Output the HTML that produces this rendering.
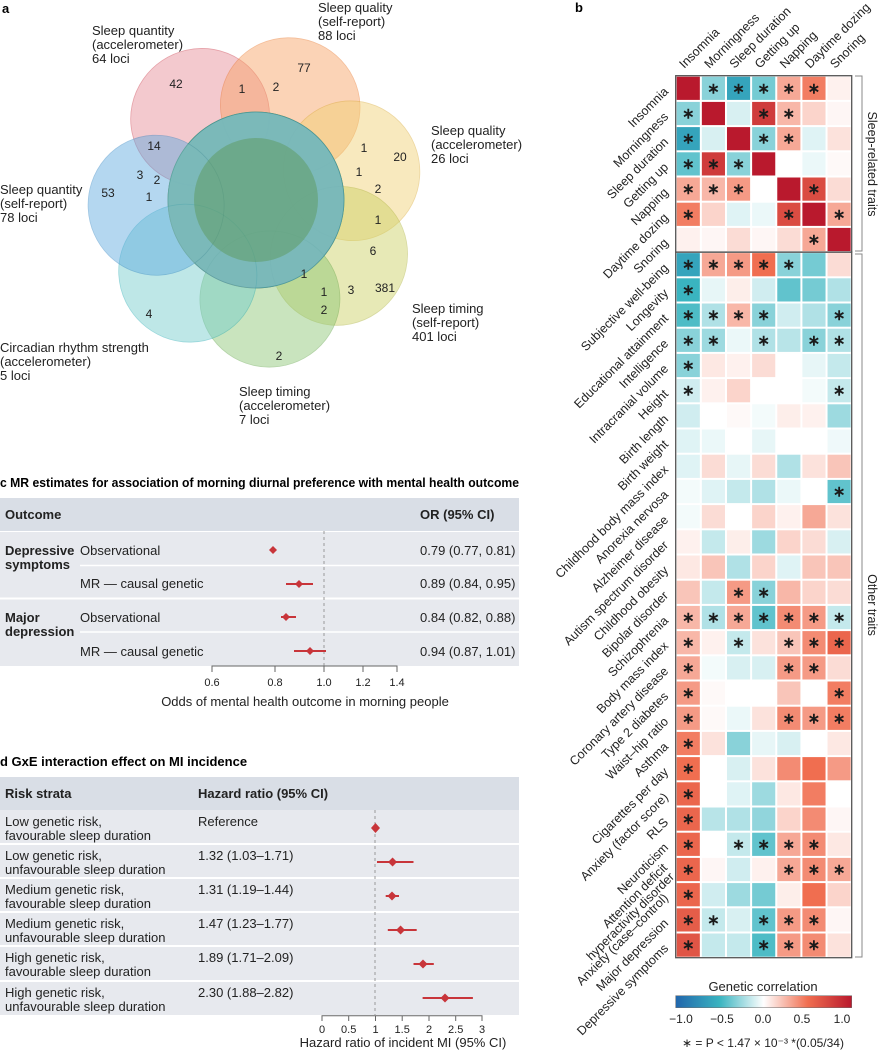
<!DOCTYPE html>
<html><head><meta charset="utf-8"><style>
html,body{margin:0;padding:0;background:#fff;}
svg{display:block;font-family:"Liberation Sans",sans-serif;}
</style></head><body>
<svg id="s" width="880" height="1050" viewBox="0 0 880 1050" xmlns="http://www.w3.org/2000/svg">
<!-- Panel a -->
<text x="2" y="13" font-size="13" font-weight="bold">a</text>
<g stroke-width="0.8">
<g transform="translate(256,200) rotate(-34)" opacity="0.45"><circle r="88" fill="#e58a95" stroke="#c83040"/><ellipse cy="-100" rx="70" ry="68" fill="#e58a95" stroke="#c83040"/></g>
<g transform="translate(256,200) rotate(20)" opacity="0.45"><circle r="88" fill="#f8a060" stroke="#e87020"/><ellipse cy="-100" rx="70" ry="68" fill="#f8a060" stroke="#e87020"/></g>
<g transform="translate(256,200) rotate(73)" opacity="0.45"><circle r="88" fill="#f0cf70" stroke="#d8a830"/><ellipse cy="-100" rx="70" ry="68" fill="#f0cf70" stroke="#d8a830"/></g>
<g transform="translate(256,200) rotate(124)" opacity="0.45"><circle r="88" fill="#cbd060" stroke="#a8ae30"/><ellipse cy="-100" rx="70" ry="68" fill="#cbd060" stroke="#a8ae30"/></g>
<g transform="translate(256,200) rotate(172)" opacity="0.45"><circle r="88" fill="#88c470" stroke="#5aa040"/><ellipse cy="-100" rx="70" ry="68" fill="#88c470" stroke="#5aa040"/></g>
<g transform="translate(256,200) rotate(223)" opacity="0.45"><circle r="88" fill="#70cccc" stroke="#20a8b0"/><ellipse cy="-100" rx="70" ry="68" fill="#70cccc" stroke="#20a8b0"/></g>
<g transform="translate(256,200) rotate(267)" opacity="0.45"><circle r="88" fill="#5aa8e0" stroke="#2a80c0"/><ellipse cy="-100" rx="70" ry="68" fill="#5aa8e0" stroke="#2a80c0"/></g>
<circle cx="256" cy="200" r="62" fill="#5e9a5e" opacity="0.5"/>
</g>
<g font-size="13" fill="#222">
<text x="92" y="35">Sleep quantity</text><text x="92" y="49">(accelerometer)</text><text x="92" y="63">64 loci</text>
<text x="318" y="12">Sleep quality</text><text x="318" y="26">(self-report)</text><text x="318" y="40">88 loci</text>
<text x="431" y="135">Sleep quality</text><text x="431" y="149">(accelerometer)</text><text x="431" y="163">26 loci</text>
<text x="0" y="194">Sleep quantity</text><text x="0" y="208">(self-report)</text><text x="0" y="222">78 loci</text>
<text x="412" y="313">Sleep timing</text><text x="412" y="327">(self-report)</text><text x="412" y="341">401 loci</text>
<text x="0" y="352">Circadian rhythm strength</text><text x="0" y="366">(accelerometer)</text><text x="0" y="380">5 loci</text>
<text x="239" y="396">Sleep timing</text><text x="239" y="410">(accelerometer)</text><text x="239" y="424">7 loci</text>
</g>
<g font-size="12" fill="#222" text-anchor="middle">
<text x="176" y="88">42</text><text x="304" y="72">77</text><text x="242" y="93">1</text><text x="276" y="91">2</text>
<text x="154" y="150">14</text><text x="140" y="179">3</text><text x="157" y="184">2</text><text x="149" y="201">1</text>
<text x="108" y="197">53</text><text x="364" y="152">1</text><text x="400" y="161">20</text><text x="359" y="176">1</text>
<text x="378" y="193">2</text><text x="378" y="224">1</text><text x="373" y="255">6</text><text x="385" y="292">381</text>
<text x="304" y="278">1</text><text x="324" y="296">1</text><text x="351" y="294">3</text><text x="324" y="314">2</text>
<text x="149" y="318">4</text><text x="279" y="360">2</text>
</g>

<!-- Panel c -->
<text x="0" y="487" font-size="13" font-weight="bold" textLength="519" lengthAdjust="spacingAndGlyphs">c  MR estimates for association of morning diurnal preference with mental health outcome</text>
<rect x="0" y="498" width="519" height="33" fill="#d9dee6"/>
<rect x="0" y="532" width="519" height="134" fill="#e7e9ee"/>
<line x1="80" y1="565.5" x2="519" y2="565.5" stroke="#fff" stroke-width="1.5"/>
<line x1="0" y1="598.5" x2="519" y2="598.5" stroke="#fff" stroke-width="2"/>
<line x1="80" y1="632" x2="519" y2="632" stroke="#fff" stroke-width="1.5"/>
<line x1="324" y1="531" x2="324" y2="666" stroke="#999" stroke-dasharray="3,3"/>
<g font-size="13" fill="#222">
<text x="5" y="519" font-weight="bold">Outcome</text><text x="420" y="519" font-weight="bold">OR (95% CI)</text>
<text x="5" y="555" font-weight="bold">Depressive</text><text x="5" y="569" font-weight="bold">symptoms</text>
<text x="80" y="555">Observational</text><text x="80" y="588">MR — causal genetic</text>
<text x="5" y="622" font-weight="bold">Major</text><text x="5" y="636" font-weight="bold">depression</text>
<text x="80" y="622">Observational</text><text x="80" y="656">MR — causal genetic</text>
<text x="420" y="555">0.79 (0.77, 0.81)</text><text x="420" y="588">0.89 (0.84, 0.95)</text>
<text x="420" y="622">0.84 (0.82, 0.88)</text><text x="420" y="656">0.94 (0.87, 1.01)</text>
</g>
<g fill="#c8353a" stroke="#c8353a" stroke-width="2">
<line x1="270" y1="550" x2="276" y2="550"/><path d="M273 546 L277 550 L273 554 L269 550Z" stroke="none"/>
<line x1="286" y1="584" x2="313" y2="584"/><path d="M299 580 L303 584 L299 588 L295 584Z" stroke="none"/>
<line x1="281" y1="617" x2="296" y2="617"/><path d="M286 613 L290 617 L286 621 L282 617Z" stroke="none"/>
<line x1="294" y1="651" x2="326" y2="651"/><path d="M310 647 L314 651 L310 655 L306 651Z" stroke="none"/>
</g>
<g stroke="#666" fill="none"><path d="M212 672 V666 H397 V672 M275 666 V672 M324 666 V672 M363 666 V672"/></g>
<g font-size="11" fill="#222" text-anchor="middle">
<text x="212" y="686">0.6</text><text x="275" y="686">0.8</text><text x="324" y="686">1.0</text><text x="363" y="686">1.2</text><text x="397" y="686">1.4</text>
<text x="305" y="706" font-size="13">Odds of mental health outcome in morning people</text>
</g>

<!-- Panel d -->
<text x="0" y="766" font-size="13" font-weight="bold">d  GxE interaction effect on MI incidence</text>
<rect x="0" y="777" width="519" height="33" fill="#d9dee6"/>
<rect x="0" y="810" width="519" height="205" fill="#e7e9ee"/>
<g stroke="#fff" stroke-width="2">
<line x1="0" y1="844" x2="519" y2="844"/><line x1="0" y1="878" x2="519" y2="878"/><line x1="0" y1="912" x2="519" y2="912"/><line x1="0" y1="946" x2="519" y2="946"/><line x1="0" y1="981" x2="519" y2="981"/>
</g>
<line x1="375" y1="810" x2="375" y2="1015" stroke="#999" stroke-dasharray="3,3"/>
<g font-size="13" fill="#222">
<text x="5" y="798" font-weight="bold">Risk strata</text><text x="198" y="798" font-weight="bold">Hazard ratio (95% CI)</text>
<text x="5" y="826">Low genetic risk,</text><text x="5" y="840">favourable sleep duration</text><text x="198" y="826">Reference</text>
<text x="5" y="860">Low genetic risk,</text><text x="5" y="874">unfavourable sleep duration</text><text x="198" y="860">1.32 (1.03–1.71)</text>
<text x="5" y="894">Medium genetic risk,</text><text x="5" y="908">favourable sleep duration</text><text x="198" y="894">1.31 (1.19–1.44)</text>
<text x="5" y="928">Medium genetic risk,</text><text x="5" y="942">unfavourable sleep duration</text><text x="198" y="928">1.47 (1.23–1.77)</text>
<text x="5" y="962">High genetic risk,</text><text x="5" y="976">favourable sleep duration</text><text x="198" y="962">1.89 (1.71–2.09)</text>
<text x="5" y="997">High genetic risk,</text><text x="5" y="1011">unfavourable sleep duration</text><text x="198" y="997">2.30 (1.88–2.82)</text>
</g>
<g fill="#c8353a" stroke="#c8353a" stroke-width="2">
<path d="M375.5 823 L380 828 L375.5 833 L371 828Z" stroke="none"/>
<line x1="377" y1="862" x2="413.5" y2="862"/><path d="M392.6 857.5 L397 862 L392.6 866.5 L388 862Z" stroke="none"/>
<line x1="385.7" y1="896" x2="399" y2="896"/><path d="M392 891.5 L396.5 896 L392 900.5 L387.5 896Z" stroke="none"/>
<line x1="387.8" y1="930" x2="416.7" y2="930"/><path d="M400.6 925.5 L405 930 L400.6 934.5 L396 930Z" stroke="none"/>
<line x1="413.5" y1="964" x2="433.8" y2="964"/><path d="M423 959.5 L427.5 964 L423 968.5 L418.5 964Z" stroke="none"/>
<line x1="422.6" y1="998" x2="472.9" y2="998"/><path d="M445 993.5 L449.5 998 L445 1002.5 L440.5 998Z" stroke="none"/>
</g>
<g stroke="#666" fill="none"><path d="M322 1021 V1015.7 H482 V1021 M348.7 1015.7 V1021 M375.5 1015.7 V1021 M402.2 1015.7 V1021 M429 1015.7 V1021 M455.7 1015.7 V1021"/></g>
<g font-size="11" fill="#222" text-anchor="middle">
<text x="322" y="1033">0</text><text x="348.7" y="1033">0.5</text><text x="375.5" y="1033">1</text><text x="402.2" y="1033">1.5</text><text x="429" y="1033">2</text><text x="455.7" y="1033">2.5</text><text x="482" y="1033">3</text>
<text x="403" y="1047" font-size="13">Hazard ratio of incident MI (95% CI)</text>
</g>

<!-- Panel b -->
<text x="575" y="12" font-size="13" font-weight="bold">b</text>
<g id="hm"></g>
<rect x="675.7" y="75.7" width="176" height="176.4" fill="none" stroke="#555" stroke-width="1.3"/>
<rect x="675.7" y="252.1" width="176" height="705.6" fill="none" stroke="#555" stroke-width="1.3"/>
<path d="M855 76 H862 V251 H855 M855 254 H862 V957 H855" stroke="#888" fill="none"/>
<text transform="translate(868,164) rotate(90)" font-size="12.5" text-anchor="middle" fill="#222">Sleep-related traits</text>
<text transform="translate(868,605) rotate(90)" font-size="12.5" text-anchor="middle" fill="#222">Other traits</text>
<defs><linearGradient id="cb" x1="0" x2="1" y1="0" y2="0">
<stop offset="0" stop-color="#2166ac"/><stop offset="0.25" stop-color="#3ab4c0"/><stop offset="0.5" stop-color="#ffffff"/><stop offset="0.75" stop-color="#f06e50"/><stop offset="1" stop-color="#b9192d"/></linearGradient></defs>
<text x="763" y="991" font-size="13" text-anchor="middle" fill="#222">Genetic correlation</text>
<rect x="675.7" y="995.7" width="176" height="12" fill="url(#cb)" stroke="#666" stroke-width="0.5"/>
<g font-size="12" fill="#222" text-anchor="middle">
<text x="681" y="1023">−1.0</text><text x="722" y="1023">−0.5</text><text x="763" y="1023">0.0</text><text x="802" y="1023">0.5</text><text x="842" y="1023">1.0</text>
<text x="763" y="1047">∗ = P &lt; 1.47 × 10⁻³ *(0.05/34)</text>
</g>
</svg>
<script>
(function(){
var NS="http://www.w3.org/2000/svg";
var hm=document.getElementById("hm");
var cols=["Insomnia","Morningness","Sleep duration","Getting up","Napping","Daytime dozing","Snoring"];
var rows=[
["Insomnia","1,-.3*,-.6*,-.35*,.3*,.45*,.05"],
["Morningness","-.3*,1,-.1,.8*,.25*,.15,.03"],
["Sleep duration","-.6*,-.1,1,-.3*,.3*,-.08,.1"],
["Getting up","-.4*,.8*,-.3*,1,0,-.05,.02"],
["Napping",".3*,.25*,.35*,0,1,.7*,.12"],
["Daytime dozing",".45*,.15,-.08,-.05,.7*,1,.3*"],
["Snoring",".05,.03,.12,.03,.12,.3*,1"],
["Subjective well-being","-.6*,.3*,.35*,.5*,-.3*,-.35,.12"],
["Longevity","-.5*,-.06,.06,-.12,-.4,-.35,-.2"],
["Educational attainment","-.45*,-.2*,.25*,-.3*,-.12,-.2,-.3*"],
["Intelligence","-.3*,-.25*,-.05,-.2*,-.18,-.3*,-.2*"],
["Intracranial volume","-.3*,.08,.05,.12,0,-.06,-.15"],
["Height","-.12*,.05,.15,0,0,-.03,-.15*"],
["Birth length","-.12,0,.02,-.03,.06,.05,-.25"],
["Birth weight","-.08,-.05,0,-.06,0,0,-.04"],
["Childhood body mass index","-.08,.12,-.06,.12,-.2,.1,.2"],
["Anorexia nervosa","-.03,-.08,-.15,-.2,-.05,0,-.4*"],
["Alzheimer disease","-.03,.12,0,.15,.05,.3,.1"],
["Autism spectrum disorder",".05,-.15,.06,-.25,.15,.12,-.1"],
["Childhood obesity",".08,.2,-.2,.15,-.08,.2,.2"],
["Bipolar disorder",".2,-.15,.35*,-.3*,.25,.15,.12"],
["Schizophrenia",".25*,-.2*,.3*,-.4*,.4*,.35*,-.15*"],
["Body mass index",".25*,.05,-.15*,.1,.2*,.4*,.55*"],
["Coronary artery disease",".3*,-.03,-.1,-.1,.35*,.35*,.12"],
["Type 2 diabetes",".35*,.02,0,0,.2,0,.45*"],
["Waist–hip ratio",".35*,.02,-.05,.1,.4*,.35*,.45*"],
["Asthma",".45*,.1,-.3,-.06,-.1,0,.08"],
["Cigarettes per day",".5*,0,-.1,.1,.4,.5,.35"],
["Anxiety (factor score)",".55*,0,-.08,-.25,.08,.45,0"],
["RLS",".55*,-.18,-.2,-.28,.15,.4,.03"],
["Neuroticism",".55*,0,-.15*,-.4*,.3*,.4*,.08"],
["ADHD",".55*,.03,-.12,.05,.3*,.4*,.3*"],
["Anxiety (case–control)",".55*,-.12,-.25,-.35,.06,.5,.15"],
["Major depression",".6*,-.15*,-.1,-.4*,.35*,.4*,.03"],
["Depressive symptoms",".65*,-.15,-.15,-.45*,.35*,.4*,.1"]];
var st=[[-1,[33,102,172]],[-0.5,[58,180,192]],[0,[255,255,255]],[0.5,[240,110,80]],[1,[185,25,45]]];
function col(v){for(var i=0;i<4;i++){var a=st[i],b=st[i+1];if(v<=b[0]){var t=(v-a[0])/(b[0]-a[0]);return "rgb("+[0,1,2].map(function(k){return Math.round(a[1][k]+(b[1][k]-a[1][k])*t)}).join(",")+")";}}return "rgb(185,25,45)";}
function el(n,at,txt){var e=document.createElementNS(NS,n);for(var k in at)e.setAttribute(k,at[k]);if(txt)e.textContent=txt;hm.appendChild(e);return e;}
var x0=675.7,y0=75.7,cw=25.14,rh=25.2;
rows.forEach(function(r,i){
 var y=y0+i*rh;
 r[1].split(",").forEach(function(s,j){
  var star=s.indexOf("*")>=0,v=parseFloat(s);
  var x=x0+j*cw;
  el("rect",{x:x+1,y:y+1,width:cw-2,height:rh-2,fill:col(v)});
  if(star)el("text",{x:x+cw/2,y:y+rh/2+5,"font-size":"15","font-weight":"bold","text-anchor":"middle",fill:"#1a1a1a"},"∗");
 });
 var cy=y+rh/2+4;
 if(r[0]=="ADHD"){
  el("text",{x:668,y:cy-5,"font-size":"12.5","text-anchor":"end",fill:"#222",transform:"rotate(-45 668 "+(cy-5)+")"},"Attention deficit");
  el("text",{x:675,y:cy+4,"font-size":"12.5","text-anchor":"end",fill:"#222",transform:"rotate(-45 675 "+(cy+4)+")"},"hyperactivity disorder");
 } else {
  el("text",{x:669,y:cy,"font-size":"12.5","text-anchor":"end",fill:"#222",transform:"rotate(-45 669 "+cy+")"},r[0]);
 }
});
cols.forEach(function(c,j){
 var x=x0+j*cw+cw/2-4,y=69;
 el("text",{x:x,y:y,"font-size":"12.5",fill:"#222",transform:"rotate(-45 "+x+" "+y+")"},c);
});
})();
</script>
</body></html>
